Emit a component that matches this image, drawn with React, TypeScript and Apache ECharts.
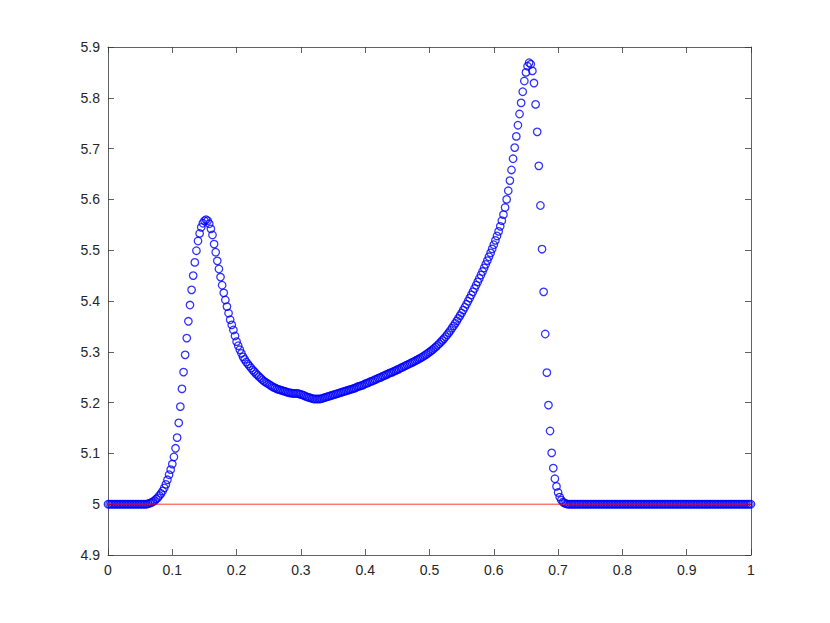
import React, { useEffect, useRef } from "react";
import * as echarts from "echarts";

// Grid spacing of the sampled solution (x = index * xStep, 0..1)
const xStep = 0.0025;

const yLeftFlat = [
  5, 5, 5, 5, 5, 5, 5, 5, 5, 5, 5, 5, 5, 5, 5, 5, 5, 5, 5, 5, 5, 5, 5, 5, 5,
];
const yPeak1 = [
  5.001, 5.002, 5.003, 5.005, 5.007, 5.01, 5.013, 5.017, 5.021, 5.026,
  5.032, 5.039, 5.048, 5.058, 5.068, 5.079, 5.093, 5.11, 5.131, 5.16,
  5.192, 5.227, 5.26, 5.294, 5.327, 5.36, 5.392, 5.422, 5.45, 5.476,
  5.499, 5.518, 5.533, 5.545, 5.553, 5.558, 5.56, 5.558, 5.552, 5.542,
  5.53, 5.512, 5.496, 5.479, 5.463, 5.447, 5.431, 5.416, 5.402, 5.389,
  5.376, 5.363, 5.353, 5.343, 5.331, 5.32, 5.312, 5.304, 5.297, 5.29,
  5.285, 5.28, 5.276, 5.272, 5.268, 5.264, 5.261, 5.257, 5.254, 5.251,
  5.248, 5.245, 5.242, 5.24, 5.238, 5.236, 5.234, 5.232, 5.23, 5.229,
  5.227, 5.226, 5.225, 5.224, 5.223, 5.222, 5.221,
];
const yValley = [
  5.22, 5.219, 5.219, 5.218, 5.218, 5.218, 5.218, 5.217, 5.216, 5.215,
  5.214, 5.212, 5.211, 5.21, 5.209, 5.208, 5.207, 5.207, 5.207, 5.207,
  5.207, 5.208, 5.209, 5.21, 5.211, 5.212, 5.213, 5.214, 5.215, 5.216,
  5.217, 5.218, 5.219, 5.22, 5.221, 5.222, 5.223, 5.224, 5.225, 5.226,
  5.227, 5.228, 5.229, 5.231, 5.232, 5.233, 5.234, 5.235, 5.237, 5.238,
  5.239, 5.241, 5.242, 5.243, 5.245, 5.246, 5.248, 5.249, 5.25, 5.252,
  5.253, 5.255, 5.256, 5.258, 5.259, 5.26, 5.262, 5.263, 5.265, 5.266,
  5.268, 5.269, 5.271, 5.2725, 5.274, 5.2755, 5.277, 5.2786, 5.2802, 5.2818,
  5.2835, 5.2852, 5.287, 5.2889, 5.2908, 5.2928, 5.2949, 5.2971,
];
const yPeak2 = [
  5.2994, 5.3018, 5.3044, 5.307, 5.3098, 5.3127, 5.3158, 5.319, 5.3224, 5.326,
  5.3297, 5.3336, 5.3377, 5.342, 5.3465, 5.3511, 5.3559, 5.3608, 5.3659, 5.3711,
  5.3765, 5.382, 5.3877, 5.3935, 5.3995, 5.4056, 5.4118, 5.4181, 5.4245, 5.431,
  5.4376, 5.4443, 5.4511, 5.458, 5.465, 5.4722, 5.4795, 5.487, 5.4947, 5.5026,
  5.5108, 5.5193, 5.528, 5.537, 5.547, 5.558, 5.57, 5.584, 5.6, 5.617,
  5.637, 5.658, 5.68, 5.702, 5.724, 5.746, 5.768, 5.79, 5.812, 5.833,
  5.85, 5.862, 5.869, 5.866, 5.853, 5.829, 5.787, 5.733, 5.666, 5.588,
  5.502, 5.418, 5.335, 5.259, 5.195, 5.144, 5.101, 5.071, 5.05, 5.035,
  5.023, 5.014, 5.008, 5.004, 5.002, 5.001,
];
const yRightFlat = [
  5, 5, 5, 5, 5, 5, 5, 5, 5, 5, 5, 5, 5, 5, 5, 5, 5, 5, 5, 5,
  5, 5, 5, 5, 5, 5, 5, 5, 5, 5, 5, 5, 5, 5, 5, 5, 5, 5, 5, 5,
  5, 5, 5, 5, 5, 5, 5, 5, 5, 5, 5, 5, 5, 5, 5, 5, 5, 5, 5, 5,
  5, 5, 5, 5, 5, 5, 5, 5, 5, 5, 5, 5, 5, 5, 5, 5, 5, 5, 5, 5,
  5, 5, 5, 5, 5, 5, 5, 5, 5, 5, 5, 5, 5, 5, 5, 5, 5, 5, 5, 5,
  5, 5, 5, 5, 5, 5, 5, 5, 5, 5, 5, 5, 5, 5, 5,
];

// Reference (initial) level drawn as a red line
const refLineX = [0, 1];
const refLineY = [5, 5];

const xTicks = { min: 0, max: 1, interval: 0.1 };
const yTicks = { min: 4.9, max: 5.9, interval: 0.1 };

const numY = yLeftFlat.concat(yPeak1, yValley, yPeak2, yRightFlat);

export default function App() {
  const ref = useRef<HTMLDivElement>(null);

  useEffect(() => {
    if (!ref.current) return;
    const chart = echarts.init(ref.current, undefined, { renderer: "svg" });

    const points = numY.map((y, i) => [+(i * xStep).toFixed(4), y]);
    const refLine = refLineX.map((x, i) => [x, refLineY[i]]);

    const axisColor = "#3a3a3a";
    const font = "'Liberation Sans', Arial, Helvetica, sans-serif";
    const fmt = (v: number) => String(parseFloat(v.toFixed(1)));

    const base = (pos: string, ticks: any, showLabel: boolean) => ({
      type: "value",
      position: pos,
      min: ticks.min,
      max: ticks.max,
      interval: ticks.interval,
      axisLine: { show: true, onZero: false, lineStyle: { color: axisColor, width: 0.8 } },
      axisTick: { show: true, inside: true, length: 6, lineStyle: { color: axisColor, width: 0.8 } },
      axisLabel: {
        show: showLabel,
        color: "#262626",
        fontSize: 14,
        fontFamily: font,
        margin: 8,
        formatter: fmt,
      },
      splitLine: { show: false },
    });

    chart.setOption({
      animation: false,
      backgroundColor: "#ffffff",
      grid: { left: 108, right: 79, top: 47, bottom: 68, containLabel: false },
      xAxis: [base("bottom", xTicks, true), base("top", xTicks, false)],
      yAxis: [base("left", yTicks, true), base("right", yTicks, false)],
      series: [
        {
          type: "scatter",
          xAxisIndex: 0,
          yAxisIndex: 0,
          data: points,
          symbol: "circle",
          symbolSize: 7.5,
          silent: true,
          itemStyle: { color: "rgba(0,0,0,0)", borderColor: "#0000ff", borderWidth: 1.3 },
          z: 2,
        },
        {
          type: "line",
          xAxisIndex: 0,
          yAxisIndex: 0,
          data: refLine,
          symbol: "none",
          silent: true,
          lineStyle: { color: "#ff0000", width: 0.8 },
          z: 3,
        },
      ],
    });

    return () => chart.dispose();
  }, []);

  return (
    <div
      ref={ref}
      style={{ position: "absolute", left: 0, top: 0, width: 830, height: 623 }}
    />
  );
}
